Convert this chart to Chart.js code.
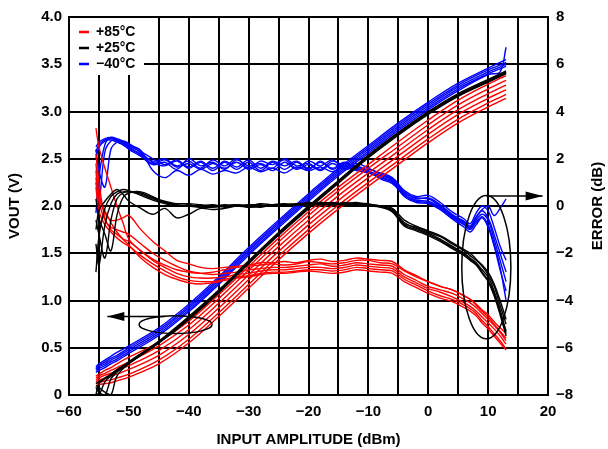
<!DOCTYPE html>
<html>
<head>
<meta charset="utf-8">
<script src="https://cdn.jsdelivr.net/npm/chart.js@4.4.1/dist/chart.umd.min.js"></script>
<style>
  html, body { margin: 0; padding: 0; background: #fff; }
  #wrap { width: 608px; height: 449px; }
</style>
</head>
<body>
<div id="wrap"><canvas id="chart" width="608" height="449"></canvas></div>
<script>
// input amplitude (dBm) sample points
const VOUT_X = [-55.5, -55, -54, -53, -52, -50, -45, -40, -35, -30, -25, -20, -15, -10, -5, 0, 5, 10, 12, 13];
const ERR_X = [-55.5, -55, -54, -53, -52, -51, -50,
  -48, -46, -44, -42, -40, -38, -36,
  -34, -32, -30, -28, -26, -24, -22,
  -20, -18, -16, -14, -12, -10, -8,
  -6, -4, -2, 0, 2, 4, 6,
  7, 8, 9, 10, 11, 12, 13];

// VOUT (V), left axis
const VOUT_25_A = [0.00, 0.12, 0.17, 0.21, 0.26, 0.35, 0.57, 0.83, 1.11, 1.42, 1.72, 2.00, 2.27, 2.54, 2.78, 3.00, 3.19, 3.34, 3.40, 3.43];
const VOUT_25_B = [0.02, 0.00, 0.14, 0.20, 0.25, 0.35, 0.56, 0.82, 1.10, 1.41, 1.71, 1.99, 2.26, 2.53, 2.77, 2.99, 3.18, 3.33, 3.39, 3.42];
const VOUT_25_C = [0.08, 0.03, 0.00, 0.17, 0.24, 0.34, 0.56, 0.81, 1.09, 1.40, 1.70, 1.98, 2.25, 2.52, 2.76, 2.98, 3.17, 3.32, 3.38, 3.41];
const VOUT_25_D = [0.10, 0.08, 0.03, 0.00, 0.20, 0.33, 0.55, 0.80, 1.08, 1.39, 1.69, 1.97, 2.24, 2.51, 2.75, 2.97, 3.16, 3.31, 3.37, 3.40];
const VOUT_25_E = [0.12, 0.14, 0.18, 0.22, 0.27, 0.34, 0.55, 0.80, 1.09, 1.40, 1.70, 1.98, 2.26, 2.53, 2.77, 2.98, 3.17, 3.32, 3.38, 3.41];

const VOUT_85_A = [0.20, 0.22, 0.26, 0.29, 0.33, 0.40, 0.56, 0.78, 1.06, 1.36, 1.66, 1.94, 2.20, 2.44, 2.68, 2.91, 3.12, 3.29, 3.35, 3.38];
const VOUT_85_B = [0.18, 0.20, 0.23, 0.26, 0.29, 0.35, 0.52, 0.74, 1.02, 1.32, 1.62, 1.90, 2.16, 2.40, 2.63, 2.86, 3.07, 3.24, 3.30, 3.33];
const VOUT_85_C = [0.16, 0.18, 0.21, 0.23, 0.26, 0.31, 0.47, 0.69, 0.97, 1.27, 1.57, 1.85, 2.11, 2.35, 2.58, 2.81, 3.02, 3.19, 3.25, 3.28];
const VOUT_85_D = [0.14, 0.16, 0.18, 0.20, 0.22, 0.27, 0.42, 0.64, 0.92, 1.22, 1.52, 1.80, 2.06, 2.30, 2.53, 2.76, 2.97, 3.14, 3.20, 3.23];
const VOUT_85_E = [0.12, 0.13, 0.15, 0.16, 0.18, 0.22, 0.37, 0.59, 0.87, 1.17, 1.47, 1.75, 2.01, 2.25, 2.48, 2.71, 2.92, 3.09, 3.15, 3.18];
const VOUT_85_F = [0.10, 0.11, 0.12, 0.13, 0.15, 0.19, 0.33, 0.55, 0.83, 1.13, 1.43, 1.71, 1.97, 2.21, 2.44, 2.67, 2.88, 3.05, 3.11, 3.14];

const VOUT_M40_A = [0.30, 0.33, 0.37, 0.41, 0.45, 0.52, 0.71, 0.96, 1.25, 1.56, 1.85, 2.13, 2.40, 2.64, 2.88, 3.10, 3.30, 3.46, 3.52, 3.55];
const VOUT_M40_B = [0.28, 0.31, 0.35, 0.39, 0.42, 0.50, 0.69, 0.94, 1.23, 1.54, 1.83, 2.11, 2.38, 2.62, 2.86, 3.08, 3.28, 3.44, 3.49, 3.52];
const VOUT_M40_C = [0.27, 0.30, 0.33, 0.37, 0.40, 0.48, 0.67, 0.92, 1.21, 1.52, 1.81, 2.09, 2.36, 2.60, 2.84, 3.06, 3.26, 3.42, 3.47, 3.50];
const VOUT_M40_D = [0.26, 0.28, 0.31, 0.35, 0.38, 0.46, 0.65, 0.90, 1.19, 1.50, 1.79, 2.07, 2.34, 2.58, 2.82, 3.04, 3.24, 3.40, 3.45, 3.48];
const VOUT_M40_E = [0.24, 0.26, 0.29, 0.33, 0.36, 0.44, 0.63, 0.88, 1.17, 1.48, 1.77, 2.05, 2.32, 2.56, 2.80, 3.02, 3.22, 3.39, 3.42, 3.68];

// ERROR (dB), right axis
const ERR_25_A = [-2.8, -1.3, -0.1, 0.4, 0.6, 0.7, 0.65, 0.45, 0.25, 0.1, 0.0, 0.05, -0.05, -0.05,
  0.0, 0.05, -0.05, 0.0, 0.05, 0.0, 0.1, 0.1, 0.15, 0.1, 0.1, 0.1, 0.05, 0.0,
  -0.2, -0.75, -0.9, -1.1, -1.3, -1.6, -1.9, -2.1, -2.3, -2.55, -2.9, -3.4, -4.2, -5.0];
const ERR_25_B = [-1.6, -2.5, -0.8, 0.1, 0.5, 0.6, 0.6, 0.5, 0.3, 0.15, 0.05, 0.0, 0.0, 0.05,
  -0.05, 0.0, 0.05, 0.05, 0.0, 0.05, 0.05, 0.15, 0.1, 0.15, 0.05, 0.1, 0.1, -0.05,
  -0.15, -0.7, -0.95, -1.15, -1.4, -1.7, -2.0, -2.2, -2.4, -2.7, -3.0, -3.6, -4.4, -5.3];
const ERR_25_C = [-0.6, -1.2, -2.2, -0.6, 0.3, 0.55, 0.6, 0.55, 0.35, 0.2, 0.1, 0.1, 0.05, 0.0,
  0.05, 0.0, 0.0, 0.1, 0.05, 0.05, 0.1, 0.1, 0.1, 0.05, 0.15, 0.05, 0.05, 0.0,
  -0.1, -0.6, -0.85, -1.05, -1.25, -1.55, -1.85, -2.0, -2.25, -2.5, -2.8, -3.3, -4.0, -4.8];
const ERR_25_D = [0.3, -0.5, -1.2, -1.9, -0.4, 0.35, 0.55, 0.6, 0.4, 0.15, 0.05, 0.0, -0.05, 0.0,
  0.0, 0.05, 0.0, -0.05, 0.05, 0.1, 0.05, 0.05, 0.15, 0.1, 0.1, 0.15, 0.05, 0.0,
  -0.2, -0.8, -1.0, -1.2, -1.45, -1.75, -2.05, -2.25, -2.45, -2.8, -3.15, -3.7, -4.5, -5.4];
const ERR_25_E = [-1.0, -0.2, 0.2, 0.5, 0.7, 0.5, 0.2, -0.1, -0.35, -0.1, -0.5, -0.35, -0.1, -0.15,
  -0.1, 0.0, -0.05, 0.0, 0.0, 0.05, 0.05, 0.1, 0.05, 0.1, 0.05, 0.1, 0.0, -0.05,
  -0.25, -0.85, -1.05, -1.25, -1.5, -1.8, -2.1, -2.3, -2.5, -2.85, -3.2, -3.8, -4.6, -5.5];

const ERR_85_A = [3.3, 2.5, 1.6, 0.8, 0.0, -0.7, -1.4, -1.9, -2.25, -2.5, -2.7, -2.8, -2.85, -2.8,
  -2.7, -2.6, -2.55, -2.5, -2.45, -2.5, -2.45, -2.35, -2.4, -2.45, -2.4, -2.3, -2.3, -2.4,
  -2.45, -2.75, -3.0, -3.2, -3.4, -3.55, -3.8, -3.95, -4.15, -4.4, -4.6, -4.9, -5.15, -5.4];
const ERR_85_B = [1.8, 0.5, -0.3, -0.6, -0.6, -0.5, -0.4, -1.0, -1.5, -1.9, -2.3, -2.45, -2.6, -2.65,
  -2.6, -2.55, -2.5, -2.4, -2.4, -2.35, -2.4, -2.3, -2.25, -2.35, -2.3, -2.2, -2.25, -2.3,
  -2.35, -2.7, -2.95, -3.2, -3.4, -3.55, -3.8, -3.95, -4.2, -4.45, -4.7, -5.0, -5.3, -5.6];
const ERR_85_C = [1.2, 0.2, -0.6, -0.9, -1.0, -1.1, -1.2, -1.6, -2.0, -2.3, -2.55, -2.75, -2.85, -2.9,
  -2.85, -2.8, -2.7, -2.65, -2.6, -2.6, -2.55, -2.5, -2.45, -2.55, -2.5, -2.4, -2.45, -2.5,
  -2.55, -2.9, -3.15, -3.4, -3.55, -3.7, -3.95, -4.1, -4.3, -4.55, -4.8, -5.05, -5.35, -5.7];
const ERR_85_D = [2.2, 1.0, -0.5, -1.0, -1.2, -1.4, -1.5, -1.9, -2.3, -2.6, -2.85, -3.0, -3.05, -3.05,
  -3.0, -2.9, -2.85, -2.75, -2.7, -2.7, -2.65, -2.6, -2.6, -2.65, -2.6, -2.5, -2.55, -2.6,
  -2.65, -3.0, -3.25, -3.5, -3.65, -3.85, -4.1, -4.25, -4.45, -4.7, -4.95, -5.2, -5.5, -5.85];
const ERR_85_E = [0.8, -0.2, -0.8, -1.1, -1.35, -1.55, -1.7, -2.1, -2.45, -2.75, -3.0, -3.15, -3.2, -3.2,
  -3.1, -3.0, -2.95, -2.85, -2.8, -2.8, -2.75, -2.7, -2.7, -2.75, -2.7, -2.6, -2.65, -2.7,
  -2.75, -3.1, -3.35, -3.6, -3.8, -3.95, -4.2, -4.35, -4.55, -4.85, -5.1, -5.4, -5.7, -6.05];
const ERR_85_F = [1.5, 0.3, -0.2, -0.7, -1.1, -1.4, -1.65, -2.2, -2.6, -2.9, -3.1, -3.25, -3.3, -3.25,
  -3.15, -3.05, -3.0, -2.9, -2.85, -2.85, -2.8, -2.75, -2.8, -2.85, -2.8, -2.7, -2.75, -2.8,
  -2.85, -3.2, -3.45, -3.7, -3.9, -4.05, -4.3, -4.45, -4.65, -4.95, -5.2, -5.5, -5.8, -6.1];

const ERR_M40_A = [2.5, 2.7, 2.85, 2.9, 2.8, 2.65, 2.5, 2.2, 1.9, 2.0, 1.7, 1.9, 1.6, 1.95,
  1.7, 2.0, 1.6, 1.9, 1.75, 1.95, 1.6, 1.9, 1.7, 1.95, 1.6, 1.8, 1.6, 1.35,
  1.15, 0.6, 0.3, 0.35, 0.05, -0.35, -0.65, -0.85, -0.45, -0.2, -0.5, -1.2, -2.0, -2.8];
const ERR_M40_B = [2.3, 2.6, 2.8, 2.85, 2.75, 2.6, 2.4, 2.1, 1.75, 1.85, 1.55, 2.0, 1.7, 1.85,
  1.55, 1.95, 1.7, 1.8, 1.6, 2.0, 1.7, 1.8, 1.55, 1.9, 1.7, 1.7, 1.5, 1.25,
  1.05, 0.5, 0.25, 0.2, -0.05, -0.45, -0.75, -0.95, -0.6, -0.35, -0.6, -1.4, -2.3, -3.2];
const ERR_M40_C = [1.0, 0.2, 2.3, 2.75, 2.8, 2.7, 2.55, 2.3, 2.0, 1.75, 1.95, 1.65, 1.9, 1.6,
  1.9, 1.65, 1.95, 1.6, 1.9, 1.7, 1.9, 1.6, 1.85, 1.6, 1.85, 1.55, 1.55, 1.4,
  1.2, 0.65, 0.4, 0.45, 0.15, -0.25, -0.55, -0.75, -0.3, 0.0, -0.2, -0.9, -1.7, -2.3];
const ERR_M40_D = [-0.3, 1.2, 2.6, 2.9, 2.85, 2.75, 2.6, 2.35, 1.5, 1.2, 1.5, 1.3, 1.55, 1.35,
  1.5, 1.4, 1.65, 1.45, 1.6, 1.4, 1.65, 1.5, 1.65, 1.45, 1.7, 1.5, 1.4, 1.2,
  1.0, 0.4, 0.15, 0.1, -0.15, -0.55, -0.9, -1.1, -0.8, -0.5, -0.9, -1.7, -2.7, -3.6];
const ERR_M40_E = [2.4, 1.5, 0.8, 2.4, 2.7, 2.75, 2.65, 2.25, 1.85, 1.7, 1.9, 1.6, 1.85, 1.5,
  1.85, 1.55, 1.85, 1.5, 1.85, 1.55, 1.85, 1.55, 1.9, 1.55, 1.8, 1.6, 1.45, 1.3,
  1.1, 0.55, 0.35, 0.3, 0.0, -0.4, -0.7, -0.9, -0.5, -0.15, 0.0, -0.4, -0.1, 0.3];
const ERR_M40_F = [2.0, 2.5, 2.75, 2.8, 2.7, 2.6, 2.45, 2.15, 1.8, 1.95, 1.65, 1.8, 1.55, 1.8,
  1.6, 1.85, 1.55, 1.75, 1.5, 1.85, 1.55, 1.75, 1.5, 1.8, 1.55, 1.65, 1.45, 1.15,
  0.95, 0.45, 0.2, 0.15, -0.1, -0.5, -0.8, -1.0, -0.7, -0.45, -0.8, -1.6, -2.6, -4.0];

const GROUPS = [
  { color: '#000000', vout: [VOUT_25_A, VOUT_25_B, VOUT_25_C, VOUT_25_D, VOUT_25_E], err: [ERR_25_A, ERR_25_B, ERR_25_C, ERR_25_D, ERR_25_E] },
  { color: '#ff0000', vout: [VOUT_85_A, VOUT_85_B, VOUT_85_C, VOUT_85_D, VOUT_85_E, VOUT_85_F], err: [ERR_85_A, ERR_85_B, ERR_85_C, ERR_85_D, ERR_85_E, ERR_85_F] },
  { color: '#0000ff', vout: [VOUT_M40_A, VOUT_M40_B, VOUT_M40_C, VOUT_M40_D, VOUT_M40_E], err: [ERR_M40_A, ERR_M40_B, ERR_M40_C, ERR_M40_D, ERR_M40_E, ERR_M40_F] }
];

const LEGEND_LABELS = ['+85°C', '+25°C', '\u221240°C'];
const LEGEND_COLORS = ['#ff0000', '#000000', '#0000ff'];

// annotation: ellipse + arrow marking which axis each family uses
const VOUT_MARK = { cx: -42.2, cy: 0.745, rx: 6.1, ry: 0.094, arrowY: 0.83, arrowFrom: -44, arrowTo: -53.6 };
const ERR_MARK = { cx: 9.7, cy: -2.59, rx: 4.1, ry: 3.03, arrowY: 0.42, arrowFrom: 9.7, arrowTo: 19.1 };

function pts(xs, ys) { return xs.map((x, i) => ({ x: x, y: ys[i] })); }
function neg(v) { return v < 0 ? '\u2212' + Math.abs(v) : String(v); }

const datasets = [];
GROUPS.forEach(g => {
  g.vout.forEach(v => datasets.push({ data: pts(VOUT_X, v), yAxisID: 'y', borderColor: g.color }));
  g.err.forEach(e => datasets.push({ data: pts(ERR_X, e), yAxisID: 'y2', borderColor: g.color }));
});
datasets.forEach(d => {
  d.borderWidth = 1.4;
  d.pointRadius = 0;
  d.tension = 0.35;
  d.fill = false;
});

const FONT_FAMILY = '"Liberation Sans", Arial, sans-serif';
const tickFont = { family: FONT_FAMILY, size: 15, weight: 'bold' };

function arrow(ctx, x1, x2, y) {
  ctx.beginPath();
  ctx.moveTo(x1, y);
  ctx.lineTo(x2, y);
  ctx.stroke();
  const dir = x2 > x1 ? 1 : -1;
  ctx.beginPath();
  ctx.moveTo(x2, y);
  ctx.lineTo(x2 - dir * 17, y - 4.5);
  ctx.lineTo(x2 - dir * 17, y + 4.5);
  ctx.closePath();
  ctx.fill();
}

const overlay = {
  id: 'overlay',
  afterDatasetsDraw(chart) {
    const ctx = chart.ctx;
    const sx = chart.scales.x, sy = chart.scales.y, sy2 = chart.scales.y2;
    ctx.save();
    ctx.strokeStyle = '#000';
    ctx.fillStyle = '#000';
    ctx.lineWidth = 1.5;

    // left-axis marker
    let cx = sx.getPixelForValue(VOUT_MARK.cx), cy = sy.getPixelForValue(VOUT_MARK.cy);
    let rx = sx.getPixelForValue(VOUT_MARK.cx + VOUT_MARK.rx) - cx;
    let ry = cy - sy.getPixelForValue(VOUT_MARK.cy + VOUT_MARK.ry);
    ctx.beginPath();
    ctx.ellipse(cx, cy, rx, ry, 0, 0, Math.PI * 2);
    ctx.stroke();
    arrow(ctx, sx.getPixelForValue(VOUT_MARK.arrowFrom), sx.getPixelForValue(VOUT_MARK.arrowTo), sy.getPixelForValue(VOUT_MARK.arrowY));

    // right-axis marker
    cx = sx.getPixelForValue(ERR_MARK.cx); cy = sy2.getPixelForValue(ERR_MARK.cy);
    rx = sx.getPixelForValue(ERR_MARK.cx + ERR_MARK.rx) - cx;
    ry = cy - sy2.getPixelForValue(ERR_MARK.cy + ERR_MARK.ry);
    ctx.beginPath();
    ctx.ellipse(cx, cy, rx, ry, 0, 0, Math.PI * 2);
    ctx.stroke();
    arrow(ctx, sx.getPixelForValue(ERR_MARK.arrowFrom), sx.getPixelForValue(ERR_MARK.arrowTo), sy2.getPixelForValue(ERR_MARK.arrowY));

    // legend box
    const a = chart.chartArea;
    ctx.fillStyle = '#fff';
    ctx.fillRect(a.left + 1, a.top + 1, 74, 57);
    ctx.font = 'bold 14px ' + FONT_FAMILY;
    ctx.textBaseline = 'middle';
    LEGEND_LABELS.forEach((t, i) => {
      const y = a.top + 15 + i * 16;
      ctx.strokeStyle = LEGEND_COLORS[i];
      ctx.lineWidth = 2.5;
      ctx.beginPath();
      ctx.moveTo(a.left + 10, y);
      ctx.lineTo(a.left + 20, y);
      ctx.stroke();
      ctx.fillStyle = '#000';
      ctx.fillText(t, a.left + 27, y);
    });

    // right axis title, reading bottom to top like the left one
    ctx.translate(598, (a.top + a.bottom) / 2);
    ctx.rotate(-Math.PI / 2);
    ctx.font = 'bold 15px ' + FONT_FAMILY;
    ctx.textAlign = 'center';
    ctx.fillText('ERROR (dB)', 0, 0);
    ctx.restore();
  }
};

new Chart(document.getElementById('chart'), {
  type: 'line',
  data: { datasets },
  plugins: [overlay],
  options: {
    responsive: false,
    animation: false,
    devicePixelRatio: 1,
    layout: { padding: { top: 12, left: 0, right: 0, bottom: 0 } },
    plugins: { legend: { display: false }, tooltip: { enabled: false } },
    scales: {
      x: {
        type: 'linear', min: -60, max: 20,
        ticks: { stepSize: 5, font: tickFont, color: '#000', padding: 8, maxRotation: 0, autoSkip: false,
          callback: v => (v % 10 === 0 ? neg(v) : '') },
        grid: { color: '#000', lineWidth: 2, drawTicks: false },
        border: { color: '#000', width: 2 },
        title: { display: true, text: 'INPUT AMPLITUDE (dBm)', font: tickFont, color: '#000', padding: { top: 0, bottom: 0 } },
        afterFit: s => { s.height = 54; }
      },
      y: {
        position: 'left', min: 0, max: 4,
        ticks: { stepSize: 0.5, font: tickFont, color: '#000', padding: 7,
          callback: v => (v === 0 ? '0' : v.toFixed(1)) },
        grid: { color: '#000', lineWidth: 2, drawTicks: false },
        border: { color: '#000', width: 2 },
        title: { display: true, text: 'VOUT (V)', font: tickFont, color: '#000', padding: { top: 6, bottom: 0 } },
        afterFit: s => { s.width = 69; }
      },
      y2: {
        position: 'right', min: -8, max: 8,
        ticks: { stepSize: 2, font: tickFont, color: '#000', padding: 8, callback: v => neg(v) },
        grid: { display: false, drawTicks: false },
        border: { color: '#000', width: 2 },
        title: { display: false },
        afterFit: s => { s.width = 60; }
      }
    }
  }
});
</script>
</body>
</html>
